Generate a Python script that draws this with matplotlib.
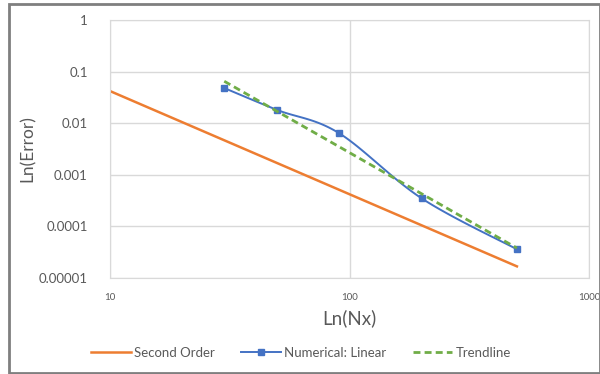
import numpy as np
import matplotlib.pyplot as plt
from matplotlib.patches import Rectangle
from matplotlib.lines import Line2D

plt.rcParams['font.family'] = ['Lato', 'DejaVu Sans']

# datos
nx_orden2 = [10, 500]
err_orden2 = [0.042, 1.68e-5]

nx_num = [30, 50, 90, 200, 500]
err_num = [0.048, 0.018, 0.0065, 0.00035, 0.000036]

nx_tend = [30, 500]
err_tend = [0.065, 0.000038]

naranja = '#ED7D31'
azul = '#4472C4'
verde = '#70AD47'
gris_txt = '#595959'


def curva_suave(ax, xs, ys, **kw):
    # linea suavizada (Catmull-Rom -> Bezier) en espacio log-log
    lx = np.log10(xs)
    ly = np.log10(ys)
    p = np.column_stack([lx, ly])
    n = len(p)
    t = np.linspace(0, 1, 30)[:, None]
    tramos = []
    for i in range(n - 1):
        p0 = p[max(i - 1, 0)]
        p1 = p[i]
        p2 = p[i + 1]
        p3 = p[min(i + 2, n - 1)]
        c1 = p1 + (p2 - p0) / 6
        c2 = p2 - (p3 - p1) / 6
        b = ((1 - t) ** 3) * p1 + 3 * ((1 - t) ** 2) * t * c1 \
            + 3 * (1 - t) * t ** 2 * c2 + t ** 3 * p2
        tramos.append(b)
    pts = np.vstack(tramos)
    ax.plot(10 ** pts[:, 0], 10 ** pts[:, 1], **kw)


fig = plt.figure(figsize=(6, 3.74), dpi=100)
ax = fig.add_axes([0.1833, 0.2567, 0.7984, 0.6898])

ax.plot(nx_orden2, err_orden2, color=naranja, lw=1.8)
curva_suave(ax, nx_num, err_num, color=azul, lw=1.4)
ax.plot(nx_num, err_num, ls='none', marker='s', ms=4.5, color=azul)
ax.plot(nx_tend, err_tend, color=verde, lw=2, ls=(0, (2.5, 1.5)))

ax.set_xscale('log')
ax.set_yscale('log')
ax.set_xlim(10, 1000)
ax.set_ylim(1e-5, 1)

ax.set_yticks([1, 0.1, 0.01, 0.001, 0.0001, 0.00001])
ax.set_yticklabels(['1', '0.1', '0.01', '0.001', '0.0001', '0.00001'])
ax.set_xticks([10, 100, 1000])
ax.set_xticklabels(['10', '100', '1000'])
ax.minorticks_off()
ax.tick_params(axis='y', length=0, labelsize=9.5, colors=gris_txt, pad=16)
ax.tick_params(axis='x', length=0, labelsize=7, colors=gris_txt, pad=11)

ax.grid(True, color='#D9D9D9', lw=1)
for s in ax.spines.values():
    s.set_color('#D9D9D9')
ax.set_axisbelow(True)

ax.set_xlabel('Ln(Nx)', fontsize=13.5, color=gris_txt)
ax.xaxis.set_label_coords(0.5, -0.12)
ax.set_ylabel('Ln(Error)', fontsize=12.5, color=gris_txt)
ax.yaxis.set_label_coords(-0.155, 0.5)

handles = [
    Line2D([], [], color=naranja, lw=1.8),
    Line2D([], [], color=azul, lw=1.4, marker='s', ms=4),
    Line2D([], [], color=verde, lw=2, ls=(0, (2.5, 1.5))),
]
fig.legend(handles, ['Second Order', 'Numerical: Linear', 'Trendline'],
           loc='center', bbox_to_anchor=(0.502, 0.056), ncol=3, frameon=False,
           fontsize=9.5, labelcolor=gris_txt, handlelength=3.0, handletextpad=0.25,
           columnspacing=2.0)

# marco exterior
fig.patches.append(Rectangle((0.015, 0.004), 0.985, 0.986, transform=fig.transFigure,
                             fill=False, edgecolor='#7F7F7F', lw=2))

fig.savefig('out.png', dpi=100)
